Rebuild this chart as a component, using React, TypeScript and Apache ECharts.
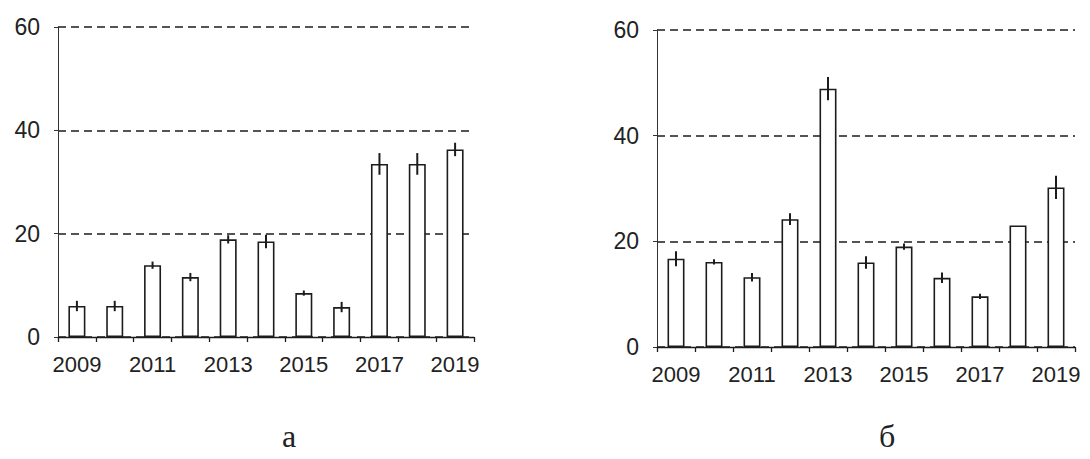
import React, { useEffect, useRef } from "react";
import * as echarts from "echarts";

const years = ["2009", "2010", "2011", "2012", "2013", "2014", "2015", "2016", "2017", "2018", "2019"];
const valuesA = [6, 6, 13.9, 11.6, 18.9, 18.5, 8.5, 5.8, 33.5, 33.5, 36.3];
const errorsA = [1, 1, 0.7, 0.8, 0.8, 1.3, 0.5, 1, 2.1, 2.1, 1.3];
const valuesB = [16.7, 16.1, 13.2, 24.2, 48.9, 16.0, 19.0, 13.1, 9.6, 23.0, 30.2];
const errorsB = [1.4, 0.5, 0.8, 1.1, 2.2, 1.2, 0.6, 1.0, 0.5, 0, 2.2];
const yTicks = [0, 20, 40, 60];
const captions = ["а", "б"];

const INK = "#1c1c1c";
const FONT = "Liberation Sans, Arial, sans-serif";

function errorSeries(axisIndex: number, values: number[], errors: number[]) {
  return {
    type: "custom",
    xAxisIndex: axisIndex,
    yAxisIndex: axisIndex,
    z: 5,
    data: values.map((v, i) => [i, v, errors[i]]),
    renderItem: (params: any, api: any) => {
      const i = api.value(0);
      const v = api.value(1);
      const e = api.value(2);
      if (!e) return null;
      const p1 = api.coord([i, v + e]);
      const p2 = api.coord([i, v - e]);
      return {
        type: "line",
        shape: { x1: p1[0], y1: p1[1], x2: p2[0], y2: p2[1] },
        style: { stroke: INK, lineWidth: 2 },
      };
    },
  };
}

function makeXAxis(gridIndex: number, margin: number) {
  return {
    type: "category",
    gridIndex,
    data: years,
    boundaryGap: true,
    axisLine: { show: true, lineStyle: { color: INK, width: 1.3 } },
    axisTick: { show: true, alignWithLabel: false, interval: 0, length: 5, lineStyle: { color: INK, width: 1.3 } },
    axisLabel: { interval: 1, fontSize: 22, color: "#222", fontFamily: FONT, margin },
    splitLine: { show: false },
  };
}

function makeYAxis(gridIndex: number) {
  return {
    type: "value",
    gridIndex,
    min: yTicks[0],
    max: yTicks[yTicks.length - 1],
    interval: yTicks[1] - yTicks[0],
    axisLine: { show: true, lineStyle: { color: "#333", width: 1 } },
    axisTick: { show: true, length: 4, lineStyle: { color: "#333" } },
    axisLabel: { fontSize: 23, color: "#222", fontFamily: FONT, margin: 18 },
    splitLine: { show: true, lineStyle: { color: INK, width: 1.7, type: [8, 5] } },
  };
}

function barSeries(axisIndex: number, values: number[]) {
  return {
    type: "bar",
    xAxisIndex: axisIndex,
    yAxisIndex: axisIndex,
    data: values,
    barWidth: 17,
    z: 3,
    itemStyle: { color: "#ffffff", borderColor: INK, borderWidth: 1.6 },
  };
}

export default function App() {
  const ref = useRef<HTMLDivElement>(null);
  useEffect(() => {
    if (!ref.current) return;
    const chart = echarts.init(ref.current, null, { renderer: "svg" });
    chart.setOption({
      animation: false,
      backgroundColor: "#ffffff",
      grid: [
        { left: 58, top: 27, width: 416, height: 310 },
        { left: 657, top: 30, width: 418, height: 317 },
      ],
      xAxis: [makeXAxis(0, 16), makeXAxis(1, 16)],
      yAxis: [makeYAxis(0), makeYAxis(1)],
      series: [
        barSeries(0, valuesA),
        errorSeries(0, valuesA, errorsA),
        barSeries(1, valuesB),
        errorSeries(1, valuesB, errorsB),
      ],
      graphic: [
        {
          type: "text",
          left: 282,
          top: 420,
          style: { text: captions[0], font: "32px 'Liberation Serif', 'Times New Roman', serif", fill: "#222" },
        },
        {
          type: "text",
          left: 879,
          top: 420,
          style: { text: captions[1], font: "32px 'Liberation Serif', 'Times New Roman', serif", fill: "#222" },
        },
      ],
    });
    return () => chart.dispose();
  }, []);
  return (
    <div
      ref={ref}
      style={{ position: "fixed", left: 0, top: 0, width: 1090, height: 459, background: "#fff" }}
    />
  );
}
